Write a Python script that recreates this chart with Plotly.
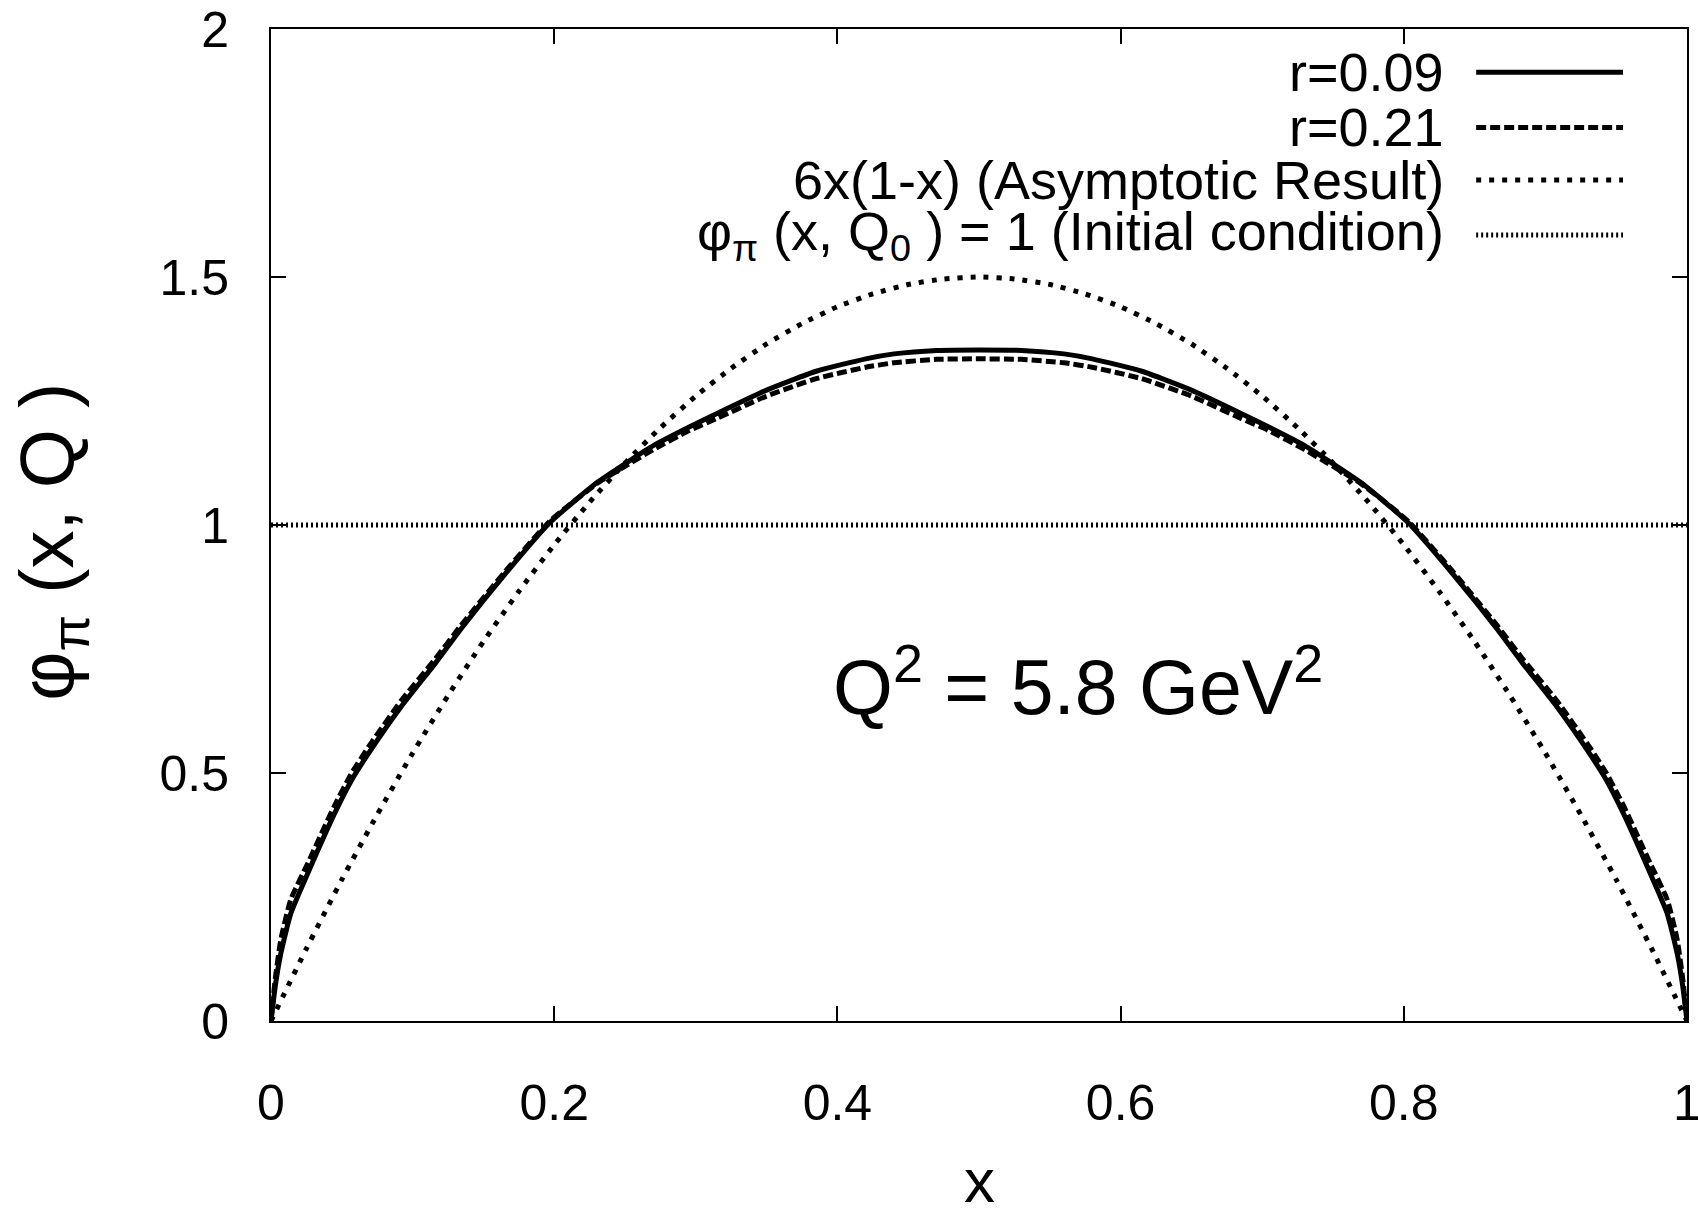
import plotly.graph_objects as go

# ---- data ----
x_r09 = [0, 0.003, 0.007, 0.014, 0.026, 0.045, 0.057, 0.069, 0.092, 0.116, 0.134, 0.165, 0.197,
         0.23, 0.254, 0.27, 0.295, 0.315, 0.35, 0.385, 0.42, 0.44, 0.47, 0.5,
         0.53, 0.56, 0.58, 0.615, 0.65, 0.685, 0.705, 0.73, 0.746, 0.77, 0.803, 0.835,
         0.866, 0.884, 0.908, 0.931, 0.943, 0.955, 0.974, 0.986, 0.993, 0.997, 1.0]
y_r09 = [0, 0.07, 0.137, 0.217, 0.298, 0.419, 0.486, 0.540, 0.634, 0.721, 0.79, 0.90, 1.005,
         1.085, 1.131, 1.16, 1.197, 1.225, 1.272, 1.310, 1.335, 1.345, 1.352, 1.353,
         1.352, 1.345, 1.335, 1.310, 1.272, 1.225, 1.197, 1.16, 1.131, 1.085, 1.005, 0.90,
         0.79, 0.721, 0.634, 0.540, 0.486, 0.419, 0.298, 0.217, 0.137, 0.07, 0]

x_r21 = x_r09
y_r21 = [0, 0.085, 0.165, 0.245, 0.318, 0.435, 0.50, 0.553, 0.646, 0.73, 0.797, 0.905, 1.008,
         1.083, 1.125, 1.152, 1.19, 1.215, 1.26, 1.295, 1.318, 1.327, 1.334, 1.335,
         1.334, 1.327, 1.318, 1.295, 1.26, 1.215, 1.19, 1.152, 1.125, 1.083, 1.008, 0.905,
         0.797, 0.73, 0.646, 0.553, 0.50, 0.435, 0.318, 0.245, 0.165, 0.085, 0]

x_asym = [0, 0.025, 0.05, 0.075, 0.1, 0.125, 0.15, 0.175, 0.2, 0.225, 0.25, 0.275, 0.3,
          0.325, 0.35, 0.375, 0.4, 0.425, 0.45, 0.475, 0.5, 0.525, 0.55, 0.575, 0.6,
          0.625, 0.65, 0.675, 0.7, 0.725, 0.75, 0.775, 0.8, 0.825, 0.85, 0.875, 0.9,
          0.925, 0.95, 0.975, 1.0]
y_asym = [0, 0.146, 0.285, 0.416, 0.54, 0.656, 0.765, 0.866, 0.96, 1.046, 1.125, 1.196,
          1.26, 1.316, 1.365, 1.406, 1.44, 1.466, 1.485, 1.496, 1.5, 1.496, 1.485, 1.466,
          1.44, 1.406, 1.365, 1.316, 1.26, 1.196, 1.125, 1.046, 0.96, 0.866, 0.765,
          0.656, 0.54, 0.416, 0.285, 0.146, 0]

x_init = [0, 1]
y_init = [1, 1]

x_ticks = [0, 0.2, 0.4, 0.6, 0.8, 1]
x_ticktext = ["0", "0.2", "0.4", "0.6", "0.8", "1"]
y_ticks = [0, 0.5, 1, 1.5, 2]
y_ticktext = ["0", "0.5", "1", "1.5", "2"]

labels = ["r=0.09", "r=0.21", "6x(1-x) (Asymptotic Result)",
          "φ<sub>π</sub> (x, Q<sub>0</sub> ) = 1 (Initial condition)"]

FONT = "Liberation Sans, Arial, sans-serif"
styles = [
    dict(width=5, dash="solid"),
    dict(width=5, dash="10px,4px"),
    dict(width=5, dash="5px,8px"),
    dict(width=5, dash="2px,3px"),
]

fig = go.Figure()
series = [(x_r09, y_r09), (x_r21, y_r21), (x_asym, y_asym), (x_init, y_init)]
for i, (xs, ys) in enumerate(series):
    fig.add_trace(go.Scatter(
        x=xs, y=ys, mode="lines", name=labels[i], showlegend=False,
        line=dict(color="black", width=styles[i]["width"], dash=styles[i]["dash"],
                  shape="spline", smoothing=0.5),
    ))

# manual legend (text right-aligned, sample to the right)
leg_y = [0.9563, 0.9008, 0.8478, 0.7923]
for i, lab in enumerate(labels):
    fig.add_annotation(xref="paper", yref="paper", x=0.830, y=leg_y[i], text=lab,
                       showarrow=False, xanchor="right", yanchor="middle",
                       font=dict(family=FONT, size=54, color="black"))
    fig.add_shape(type="line", xref="paper", yref="paper", x0=0.8511, x1=0.9548,
                  y0=leg_y[i], y1=leg_y[i],
                  line=dict(color="black", width=styles[i]["width"], dash=styles[i]["dash"]))

# Q^2 annotation
fig.add_annotation(xref="x", yref="y", x=0.57, y=0.685,
                   text="Q<sup>2</sup> = 5.8 GeV<sup>2</sup>", showarrow=False,
                   xanchor="center", yanchor="middle",
                   font=dict(family=FONT, size=77, color="black"))

# axis titles
fig.add_annotation(xref="paper", yref="paper", x=-0.1547, y=0.483,
                   text="φ<sub>π</sub> (x, Q )", textangle=-90, showarrow=False,
                   xanchor="center", yanchor="middle",
                   font=dict(family=FONT, size=76, color="black"))
fig.add_annotation(xref="paper", yref="paper", x=0.5, y=-0.1611,
                   text="x", showarrow=False, xanchor="center", yanchor="middle",
                   font=dict(family=FONT, size=62, color="black"))

axis_common = dict(showline=True, linecolor="black", linewidth=2, mirror="ticks",
                   ticks="inside", ticklen=15, tickwidth=2, tickcolor="black",
                   showgrid=False, zeroline=False, ticklabeloverflow="allow",
                   tickfont=dict(family=FONT, size=50, color="black"))
fig.update_xaxes(range=[0, 1], tickvals=x_ticks, ticktext=x_ticktext,
                 ticklabelstandoff=37, **axis_common)
fig.update_yaxes(range=[0, 2], tickvals=y_ticks, ticktext=y_ticktext,
                 ticklabelstandoff=30, **axis_common)

fig.update_layout(width=1698, height=1215, plot_bgcolor="white", paper_bgcolor="white",
                  margin=dict(l=271, r=11, t=29, b=194, autoexpand=False),
                  showlegend=False)

fig.write_html("out.html")
